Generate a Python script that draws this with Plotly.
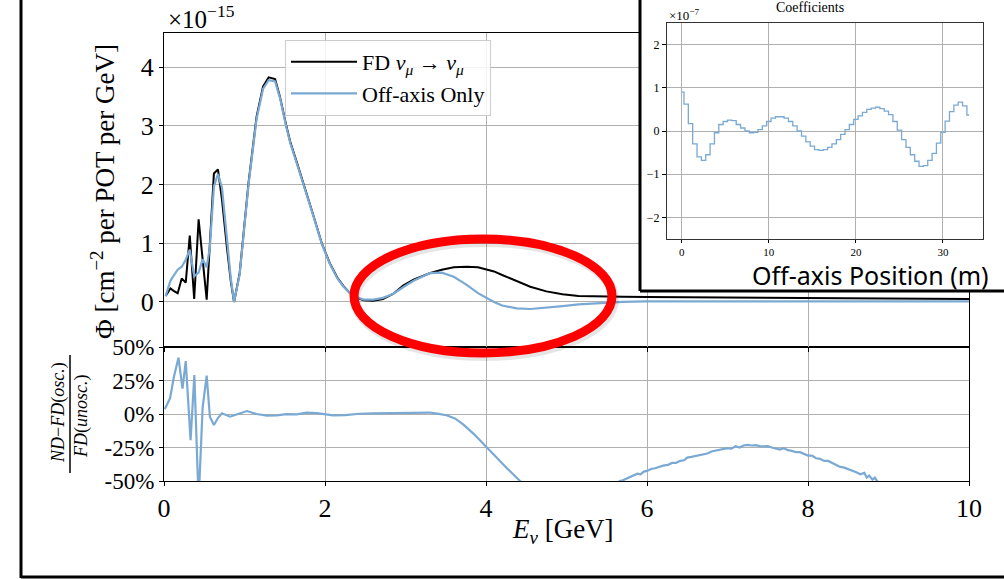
import plotly.graph_objects as go

W, H = 1004, 579

# ---- flux spectra (units of 1e-15 cm^-2 per POT per GeV) ----
energy = [0.02, 0.08, 0.12, 0.17, 0.22, 0.27, 0.32, 0.375, 0.43, 0.48,
          0.53, 0.57, 0.62, 0.67, 0.72, 0.78, 0.83, 0.87, 0.94, 1.05,
          1.15, 1.23, 1.30, 1.38, 1.44, 1.52, 1.57, 1.65, 1.74, 1.85,
          1.96, 2.06, 2.15, 2.23, 2.31, 2.40, 2.48, 2.60, 2.72, 2.85,
          2.97, 3.10, 3.30, 3.45, 3.60, 3.76, 3.90, 4.00, 4.10, 4.20,
          4.38, 4.55, 4.75, 4.95, 5.15, 5.40, 5.70, 6.00, 7.00, 8.00,
          9.00, 10.00]

phi_fd = [0.10, 0.23, 0.19, 0.15, 0.40, 0.33, 1.13, 0.05, 1.41, 0.70,
          0.04, 1.00, 2.19, 2.26, 1.75, 0.95, 0.35, 0.00, 0.49, 2.03,
          3.16, 3.67, 3.83, 3.80, 3.50, 3.00, 2.72, 2.38, 2.00, 1.50,
          1.00, 0.66, 0.42, 0.27, 0.15, 0.07, 0.03, 0.02, 0.05, 0.14,
          0.28, 0.38, 0.49, 0.55, 0.59, 0.60, 0.59, 0.56, 0.52, 0.46,
          0.35, 0.26, 0.18, 0.13, 0.10, 0.09, 0.09, 0.085, 0.075, 0.065,
          0.058, 0.05]

phi_offaxis = [0.10, 0.36, 0.45, 0.55, 0.60, 0.72, 0.89, 0.44, 0.50, 0.73,
               0.59, 0.94, 1.97, 2.18, 1.95, 1.05, 0.40, 0.00, 0.47, 2.00,
               3.12, 3.63, 3.78, 3.76, 3.48, 2.98, 2.70, 2.36, 1.98, 1.49,
               0.99, 0.65, 0.41, 0.26, 0.15, 0.08, 0.04, 0.04, 0.07, 0.14,
               0.25, 0.36, 0.49, 0.50, 0.43, 0.29, 0.15, 0.07, 0.00, -0.06,
               -0.11, -0.12, -0.10, -0.07, -0.04, -0.02, 0.00, 0.01, 0.01, 0.01,
               0.01, 0.01]

# ---- relative difference (ND - FD(osc.)) / FD(unosc.), percent ----
energy_ratio = [0.01, 0.075, 0.124, 0.18, 0.23, 0.27, 0.33, 0.377, 0.43, 0.48,
                0.53, 0.57, 0.62, 0.67, 0.72, 0.82, 0.92, 1.03, 1.15, 1.28,
                1.40, 1.52, 1.65, 1.77, 1.90, 2.10, 2.25, 2.43, 2.60, 2.85,
                3.00, 3.18, 3.30, 3.39, 3.51, 3.62, 3.72, 3.85, 4.00, 4.13,
                4.26, 4.44, 4.50, None,
                5.62, 5.66, 5.70, 5.74, 5.79, 5.83, 5.88, 5.92, 5.96, 6.00,
                6.05, 6.10, 6.15, 6.20, 6.26, 6.31, 6.36, 6.41, 6.46, 6.50,
                6.55, 6.60, 6.65, 6.70, 6.75, 6.80, 6.85, 6.90, 6.95, 7.00,
                7.05, 7.10, 7.15, 7.20, 7.25, 7.30, 7.35, 7.40, 7.45, 7.50,
                7.55, 7.60, 7.65, 7.70, 7.75, 7.80, 7.85, 7.90, 7.95, 8.00,
                8.05, 8.10, 8.15, 8.20, 8.25, 8.30, 8.35, 8.40, 8.45, 8.50,
                8.55, 8.60, 8.65, 8.70, 8.73, 8.76, 8.80, 8.83, 8.87, 8.92]

ratio_pct = [3.7, 11.7, 28.0, 42.0, 19.0, 39.5, -19.5, 29.0, -65.0, 5.0,
             28.6, -2.0, -8.2, -3.0, 0.5, -2.0, 0.0, 2.2, 0.0, -1.2,
             -1.0, -0.1, -0.3, 1.0, 0.6, -1.0, -0.8, 0.2, 0.5, 0.7,
             0.9, 1.2, 1.1, 0.3, -0.9, -3.5, -8.0, -15.0, -24.4, -32.5,
             -40.5, -51.0, -55.0, None,
             -53.0, -50.0, -49.5, -48.5, -47.0, -46.0, -44.5, -45.0, -43.0, -42.5,
             -41.0, -40.5, -39.5, -38.5, -38.0, -36.5, -36.5, -35.0, -34.5, -32.5,
             -32.0, -31.5, -31.0, -30.5, -29.5, -28.0, -27.5, -27.0, -26.5, -25.5,
             -25.8, -24.0, -25.0, -23.5, -23.0, -23.5, -23.2, -24.0, -24.2, -24.0,
             -25.0, -25.5, -26.5, -25.5, -27.0, -27.5, -28.5, -28.5, -29.5, -31.0,
             -31.0, -33.0, -33.5, -35.0, -35.0, -36.5, -38.0, -39.5, -40.0, -41.0,
             -42.5, -43.5, -45.0, -44.0, -47.5, -46.0, -49.0, -47.5, -51.0, -55.0]

# ---- off-axis linear combination coefficients (units of 1e-7) ----
offaxis_pos = [0.0, 0.5, 1.0, 1.5, 2.0, 2.5, 3.0, 3.5, 4.0, 4.5,
               5.0, 5.5, 6.0, 6.5, 7.0, 7.5, 8.0, 8.5, 9.0, 9.5,
               10.0, 10.5, 11.0, 11.5, 12.0, 12.5, 13.0, 13.5, 14.0, 14.5,
               15.0, 15.5, 16.0, 16.5, 17.0, 17.5, 18.0, 18.5, 19.0, 19.5,
               20.0, 20.5, 21.0, 21.5, 22.0, 22.5, 23.0, 23.5, 24.0, 24.5,
               25.0, 25.5, 26.0, 26.5, 27.0, 27.5, 28.0, 28.5, 29.0, 29.5,
               30.0, 30.5, 31.0, 31.5, 32.0, 32.5, 33.0]

coefficients = [0.90, 0.62, 0.17, -0.30, -0.60, -0.68, -0.55, -0.30, -0.04, 0.15,
                0.22, 0.25, 0.24, 0.15, 0.07, 0.00, -0.04, -0.03, 0.03, 0.12,
                0.22, 0.30, 0.33, 0.33, 0.30, 0.22, 0.12, 0.00, -0.12, -0.25,
                -0.35, -0.43, -0.45, -0.43, -0.38, -0.30, -0.20, -0.08, 0.03, 0.15,
                0.27, 0.35, 0.43, 0.50, 0.53, 0.55, 0.52, 0.46, 0.38, 0.22,
                0.02, -0.20, -0.38, -0.55, -0.70, -0.82, -0.80, -0.68, -0.52, -0.28,
                -0.03, 0.23, 0.45, 0.60, 0.67, 0.58, 0.37]

main_xticks = [0, 2, 4, 6, 8, 10]
flux_yticks = [0, 1, 2, 3, 4]
ratio_yticks = [-50, -25, 0, 25, 50]
ratio_yticklabels = ["-50%", "-25%", "0%", "25%", "50%"]
inset_xticks = [0, 10, 20, 30]
inset_yticks = [-2, -1, 0, 1, 2]
inset_yticklabels = ["\u22122", "\u22121", "0", "1", "2"]

SERIF = "Liberation Serif"
BLUE = "#7aa9d4"
GRID = "#b0b0b0"


def px(x):
    return x / W


def py(y):
    return 1 - y / H


fig = go.Figure()

fig.add_trace(go.Scatter(
    x=energy, y=phi_fd, xaxis="x2", yaxis="y2", mode="lines",
    name="FD <i>\u03bd</i><sub><i>\u03bc</i></sub> \u2192 <i>\u03bd</i><sub><i>\u03bc</i></sub>",
    line=dict(color="black", width=2)))
fig.add_trace(go.Scatter(
    x=energy, y=phi_offaxis, xaxis="x2", yaxis="y2", mode="lines",
    name="Off-axis Only", line=dict(color=BLUE, width=2.2)))
fig.add_trace(go.Scatter(
    x=energy_ratio, y=ratio_pct, xaxis="x", yaxis="y", mode="lines",
    showlegend=False, connectgaps=False, line=dict(color=BLUE, width=2.2)))
# blank panel that backs the inset
fig.add_trace(go.Scatter(x=[None], y=[None], xaxis="x3", yaxis="y3",
                         showlegend=False, hoverinfo="skip"))
fig.add_trace(go.Scatter(
    x=offaxis_pos, y=coefficients, xaxis="x4", yaxis="y4", mode="lines",
    line_shape="hvh", showlegend=False, line=dict(color=BLUE, width=1.3)))

axis_common = dict(showgrid=True, gridcolor=GRID, gridwidth=1, zeroline=False,
                   showline=True, mirror=True, linecolor="black", linewidth=1.2,
                   ticks="outside", ticklen=4, tickcolor="black",
                   automargin=False)
hidden_axis = dict(showgrid=False, zeroline=False, showticklabels=False,
                   ticks="", showline=False, automargin=False)

fig.update_layout(
    template="none",
    width=W, height=H, autosize=False,
    margin=dict(l=0, r=0, t=0, b=0, pad=0),
    paper_bgcolor="white", plot_bgcolor="white",
    font=dict(family=SERIF, color="black"),
    xaxis=dict(domain=[px(164), px(969)], range=[0, 10], anchor="y",
               tickvals=main_xticks, tickfont=dict(size=26), **axis_common),
    yaxis=dict(domain=[py(481), py(347)], range=[-50, 50], anchor="x",
               tickvals=ratio_yticks, ticktext=ratio_yticklabels,
               tickfont=dict(size=23), **axis_common),
    xaxis2=dict(domain=[px(164), px(969)], range=[0, 10], anchor="y2",
                tickvals=main_xticks, showticklabels=False, matches="x",
                **axis_common),
    yaxis2=dict(domain=[py(347), py(33)], range=[-0.768, 4.585], anchor="x2",
                tickvals=flux_yticks, tickfont=dict(size=26), **axis_common),
    xaxis3=dict(domain=[px(640), 1.0], range=[0, 1], anchor="y3", **hidden_axis),
    yaxis3=dict(domain=[py(291), 1.0], range=[0, 1], anchor="x3", **hidden_axis),
    xaxis4=dict(domain=[px(667), px(983)], range=[-1.7, 34.6], anchor="y4",
                tickvals=inset_xticks, tickfont=dict(size=11), **axis_common),
    yaxis4=dict(domain=[py(239), py(23)], range=[-2.5, 2.5], anchor="x4",
                tickvals=inset_yticks, ticktext=inset_yticklabels,
                tickfont=dict(size=12), **axis_common),
    legend=dict(x=px(285), y=py(40), xanchor="left", yanchor="top",
                bgcolor="rgba(255,255,255,0.85)", bordercolor="#cccccc",
                borderwidth=1, font=dict(family=SERIF, size=22),
                itemwidth=66, entrywidth=165, tracegroupgap=0),
    showlegend=True,
)

fig.update_xaxes(linecolor="#333333", ticklen=3, selector=dict(anchor="y4"))
fig.update_yaxes(linecolor="#333333", selector=dict(anchor="x4"))

annotations = [
    dict(x=px(166), y=py(17), text="\u00d710<sup>\u221215</sup>", xanchor="left",
         yanchor="middle", font=dict(size=25)),
    dict(x=px(103), y=py(192), text="\u03a6 [cm<sup>\u22122</sup> per POT per GeV]",
         textangle=-90, xanchor="center", yanchor="middle", font=dict(size=27)),
    dict(x=px(58), y=py(413), text="<i>ND</i>\u2212<i>FD</i>(<i>osc.</i>)",
         textangle=-90, xanchor="center", yanchor="middle", font=dict(size=18)),
    dict(x=px(81), y=py(416), text="<i>FD</i>(<i>unosc.</i>)",
         textangle=-90, xanchor="center", yanchor="middle", font=dict(size=18)),
    dict(x=px(563), y=py(531), text="<i>E</i><sub><i>\u03bd</i></sub> [GeV]",
         xanchor="center", yanchor="middle", font=dict(size=27)),
    dict(x=px(810), y=py(7), text="Coefficients", xanchor="center",
         yanchor="middle", font=dict(size=14)),
    dict(x=px(667), y=py(15), text="\u00d710<sup>\u22127</sup>", xanchor="left",
         yanchor="middle", font=dict(size=13)),
    dict(x=px(870), y=py(275), text="Off-axis Position (m)", xanchor="center",
         yanchor="middle", font=dict(family="Noto Sans", size=25)),
]
for a in annotations:
    a.update(xref="paper", yref="paper", showarrow=False)
fig.update_layout(annotations=annotations)

shapes = [
    # fraction bar of the ratio label
    dict(type="line", x0=px(70), x1=px(70), y0=py(355), y1=py(473),
         line=dict(color="black", width=1.5)),
    # inset frame
    dict(type="line", x0=px(640), x1=px(640), y0=py(291), y1=1.0,
         line=dict(color="black", width=3)),
    dict(type="line", x0=px(640), x1=1.0, y0=py(291), y1=py(291),
         line=dict(color="black", width=3)),
    # outer frame
    dict(type="line", x0=px(21), x1=px(21), y0=py(578), y1=1.0,
         line=dict(color="black", width=3)),
    dict(type="line", x0=px(21), x1=1.0, y0=py(577), y1=py(577),
         line=dict(color="black", width=3)),
    # highlight ellipse with soft shadow
    dict(type="circle", x0=px(355), x1=px(614), y0=py(356), y1=py(242),
         line=dict(color="rgba(0,0,0,0.10)", width=10)),
    dict(type="circle", x0=px(354), x1=px(612), y0=py(353), y1=py(239),
         line=dict(color="#ff0000", width=9)),
]
for s in shapes:
    s.update(xref="paper", yref="paper", layer="above")
fig.update_layout(shapes=shapes)

fig.write_html("out.html")
